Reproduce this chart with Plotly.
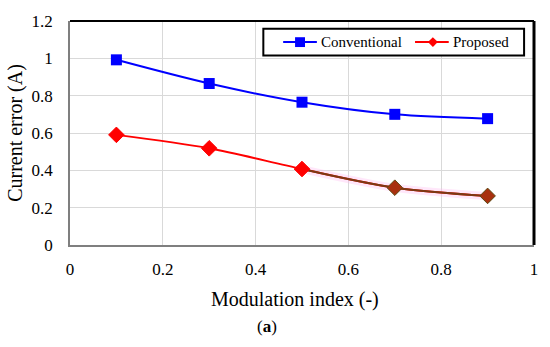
import plotly.graph_objects as go

x_vals = [0.1, 0.3, 0.5, 0.7, 0.9]
conventional = [0.992, 0.865, 0.765, 0.70, 0.677]
proposed = [0.59, 0.518, 0.407, 0.307, 0.263]
proposed_marker_colors = ["#ff0000", "#ff0000", "#ff0000", "#a8300f", "#a8300f"]
proposed_marker_edges = ["#ff0000", "#ff0000", "#ff0000", "#5c4a12", "#5c4a12"]

x_ticks = [0, 0.2, 0.4, 0.6, 0.8, 1]
x_tick_text = ["0", "0.2", "0.4", "0.6", "0.8", "1"]
y_ticks = [0, 0.2, 0.4, 0.6, 0.8, 1, 1.2]
y_tick_text = ["0", "0.2", "0.4", "0.6", "0.8", "1", "1.2"]

series_names = ["Conventional", "Proposed"]
x_title = "Modulation index (-)"
y_title = "Current error (A)"

FONT = "Liberation Serif"
W, H = 550, 347
ML, MR, MT, MB = 70, 12, 17, 102
PW, PH = W - ML - MR, H - MT - MB


def px(xp):
    return (xp - ML) / PW


def py(yp):
    return (H - MB - yp) / PH


fig = go.Figure()
fig.add_trace(go.Scatter(
    x=x_vals, y=conventional, name=series_names[0], mode="lines+markers",
    line=dict(color="#0000ff", width=2, shape="spline", smoothing=0.9),
    marker=dict(symbol="square", size=11, color="#0000ff"),
))
# faint pink highlight around the tail of the Proposed curve
fig.add_trace(go.Scatter(
    x=x_vals[2:], y=proposed[2:], mode="lines", hoverinfo="skip",
    line=dict(color="rgba(255,185,240,0.35)", width=8, shape="spline", smoothing=0.9),
))
fig.add_trace(go.Scatter(
    x=x_vals, y=proposed, name=series_names[1], mode="lines",
    line=dict(color="#ff0000", width=2, shape="spline", smoothing=0.9),
))
fig.add_trace(go.Scatter(
    x=x_vals[2:], y=proposed[2:], mode="lines", hoverinfo="skip",
    line=dict(color="#7a3a14", width=2, shape="spline", smoothing=0.9),
))
fig.add_trace(go.Scatter(
    x=x_vals, y=proposed, name=series_names[1], mode="markers",
    marker=dict(symbol="diamond", size=12, color=proposed_marker_colors,
                line=dict(color=proposed_marker_edges, width=1)),
))

# manual legend box (Excel-style)
lx0, lx1, ly0, ly1 = px(265), px(528), py(52), py(25)
lyc = py(38.5)
sq_hx, sq_hy = 5 / PW, 5 / PH
shapes = [
    dict(type="rect", xref="paper", yref="paper", x0=lx0, x1=lx1, y0=ly0, y1=ly1,
         line=dict(color="black", width=2), fillcolor="white", layer="above"),
    dict(type="line", xref="paper", yref="paper", x0=px(285), x1=px(319), y0=lyc, y1=lyc,
         line=dict(color="#0000ff", width=2), layer="above"),
    dict(type="rect", xref="paper", yref="paper",
         x0=px(302) - sq_hx, x1=px(302) + sq_hx, y0=lyc - sq_hy, y1=lyc + sq_hy,
         line=dict(color="#0000ff", width=0), fillcolor="#0000ff", layer="above"),
    dict(type="line", xref="paper", yref="paper", x0=px(418), x1=px(452), y0=lyc, y1=lyc,
         line=dict(color="#ff0000", width=2), layer="above"),
    dict(type="path", xref="paper", yref="paper",
         path=(f"M {px(436) - sq_hx} {lyc} L {px(436)} {lyc + sq_hy} "
               f"L {px(436) + sq_hx} {lyc} L {px(436)} {lyc - sq_hy} Z"),
         line=dict(color="#ff0000", width=0), fillcolor="#ff0000", layer="above"),
    # frame: thick black right edge, black top edge
    dict(type="line", xref="paper", yref="paper", x0=1, x1=1, y0=0, y1=1,
         line=dict(color="black", width=3)),
    dict(type="line", xref="paper", yref="paper", x0=0, x1=1, y0=1, y1=1,
         line=dict(color="black", width=2)),
]

annotations = [
    dict(text=series_names[0], xref="paper", yref="paper", x=px(321), y=lyc,
         xanchor="left", yanchor="middle", showarrow=False,
         font=dict(size=15, family=FONT, color="black")),
    dict(text=series_names[1], xref="paper", yref="paper", x=px(454), y=lyc,
         xanchor="left", yanchor="middle", showarrow=False,
         font=dict(size=15, family=FONT, color="black")),
    dict(text=x_title, xref="paper", yref="paper", x=px(297), y=py(300),
         showarrow=False, font=dict(size=20, family=FONT, color="black"),
         xanchor="center", yanchor="middle"),
    dict(text="(<b>a</b>)", xref="paper", yref="paper", x=px(269), y=py(328),
         showarrow=False, font=dict(size=17, family=FONT, color="black"),
         xanchor="center", yanchor="middle"),
]

fig.update_layout(
    width=W, height=H,
    margin=dict(l=ML, r=MR, t=MT, b=MB),
    paper_bgcolor="white", plot_bgcolor="white",
    font=dict(family=FONT, size=17, color="black"),
    showlegend=False,
    xaxis=dict(
        range=[0, 1], tickvals=x_ticks, ticktext=x_tick_text,
        showgrid=True, gridcolor="#d9d9d9", gridwidth=1,
        showline=True, linecolor="#7f7f7f", linewidth=1.5,
        zeroline=False, ticks="outside", ticklen=8, tickcolor="rgba(0,0,0,0)",
        tickfont=dict(size=17, family=FONT, color="black"),
    ),
    yaxis=dict(
        range=[0, 1.2], tickvals=y_ticks, ticktext=y_tick_text,
        showgrid=True, gridcolor="#d9d9d9", gridwidth=1,
        showline=True, linecolor="#7f7f7f", linewidth=1.5,
        zeroline=False, ticks="outside", ticklen=12, tickcolor="rgba(0,0,0,0)",
        title=dict(text=y_title, font=dict(size=20, family=FONT, color="black"), standoff=4),
        tickfont=dict(size=17, family=FONT, color="black"),
    ),
    shapes=shapes,
    annotations=annotations,
)

fig.write_html(
    "out.html",
    config={"displayModeBar": False},
    post_script="document.body.style.margin='0';document.body.style.padding='0';",
)
